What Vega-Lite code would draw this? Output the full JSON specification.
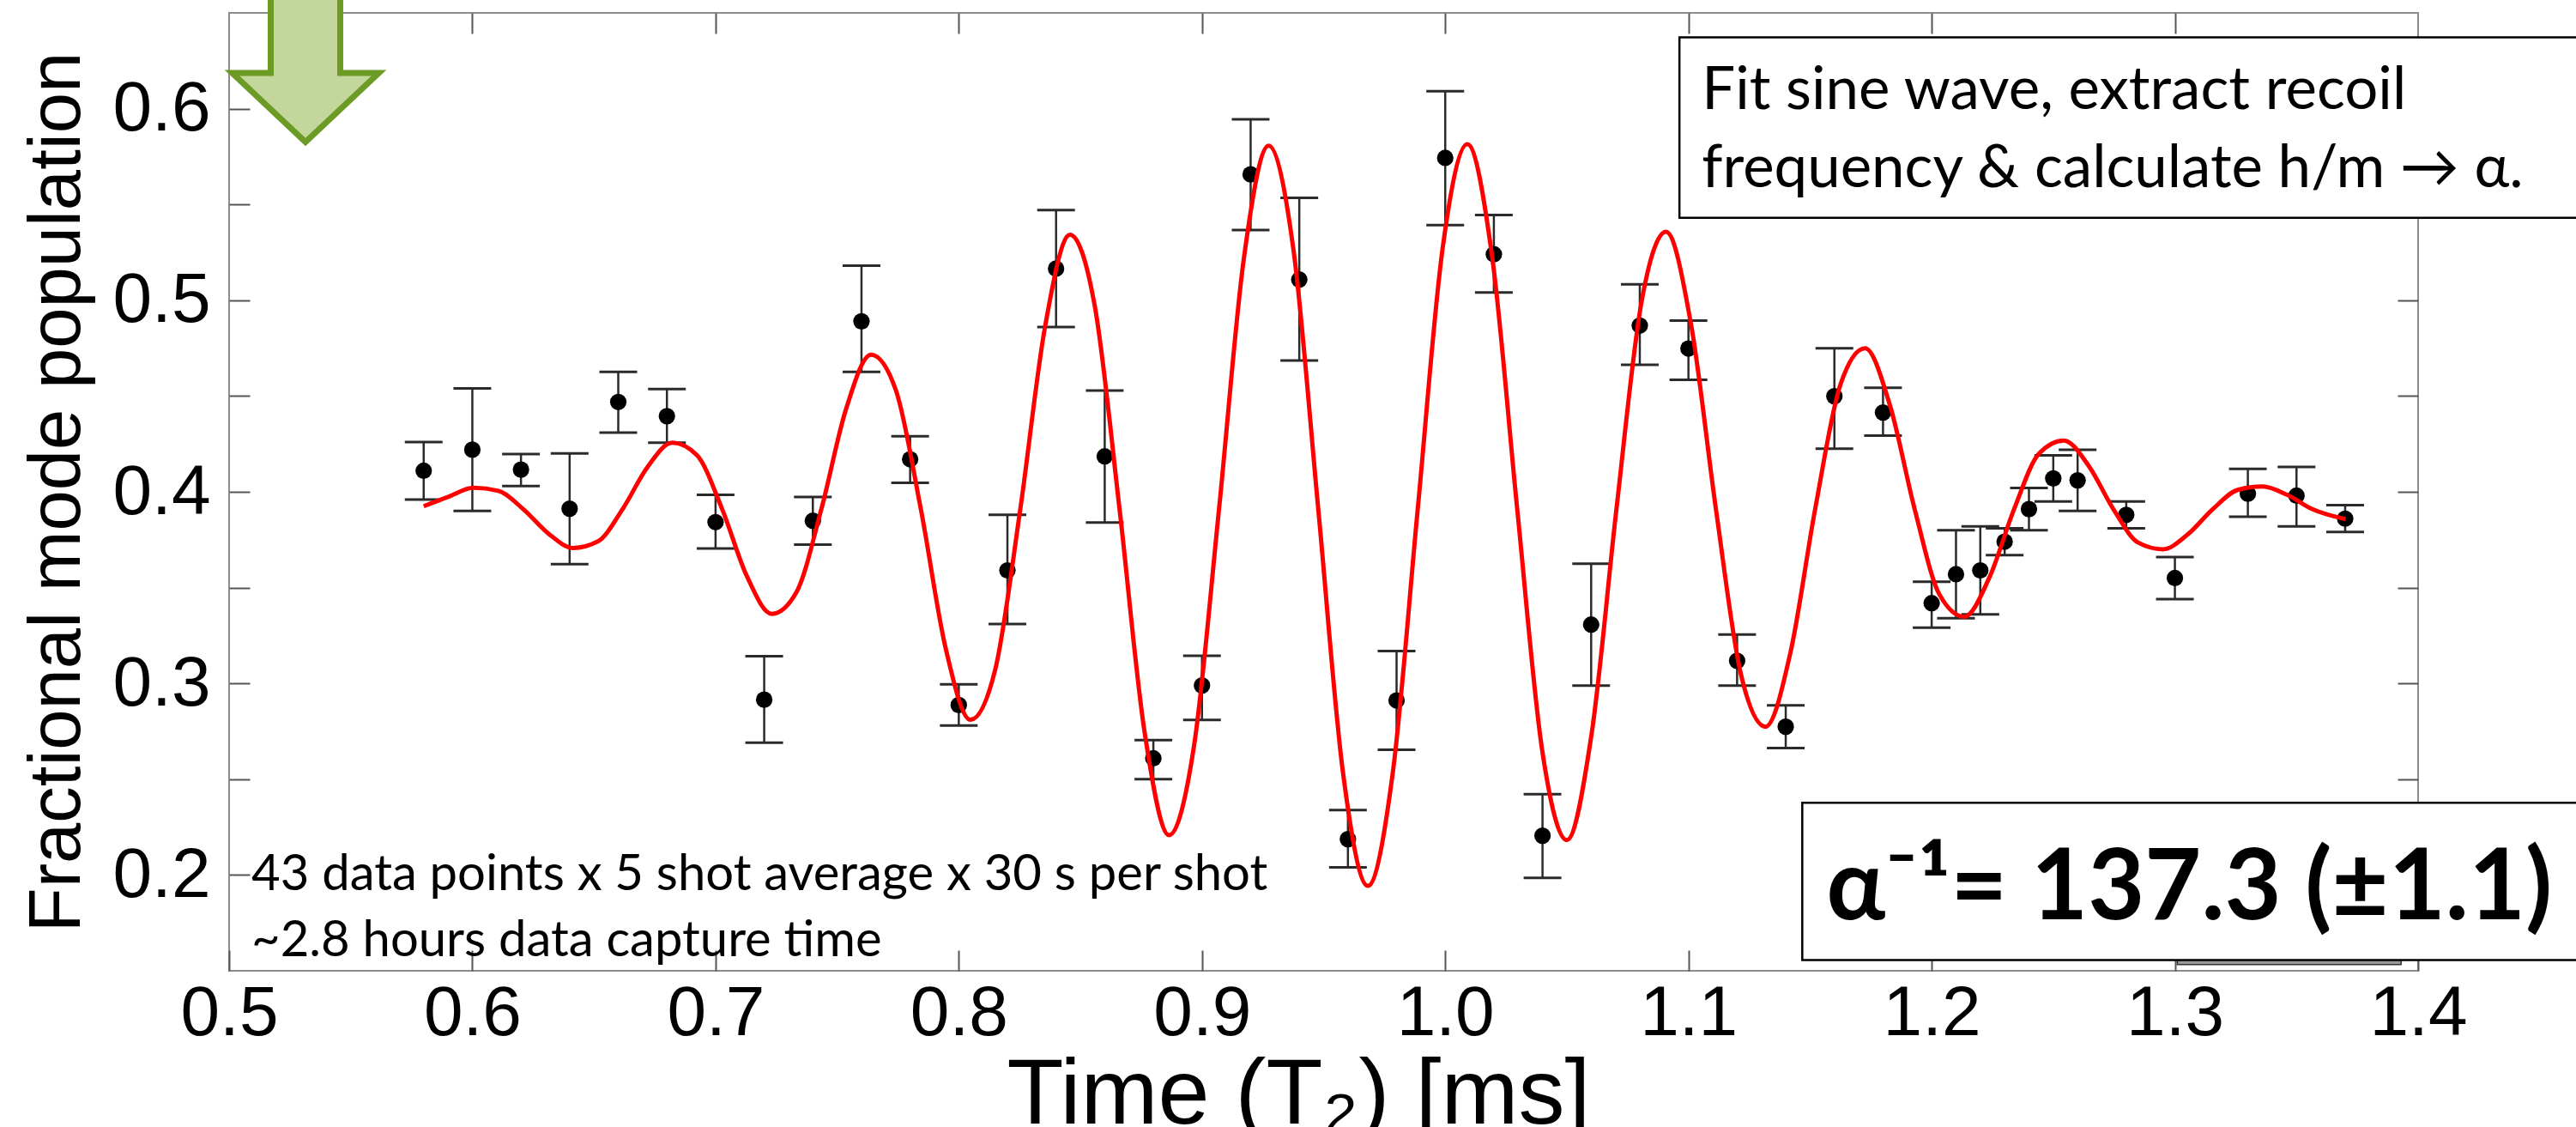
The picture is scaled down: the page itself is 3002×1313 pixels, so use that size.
{
  "$schema": "https://vega.github.io/schema/vega-lite/v6.json",
  "width": 2551,
  "height": 1116,
  "autosize": {"type": "none"},
  "padding": {"left": 267, "top": 15, "right": 184, "bottom": 182},
  "background": "white",
  "config": {"view": {"stroke": "#8c8c8c", "strokeWidth": 2}},
  "datasets": {
    "points": [
      {"x": 0.58, "y": 0.411, "lo": 0.396, "hi": 0.426},
      {"x": 0.60, "y": 0.422, "lo": 0.390, "hi": 0.454},
      {"x": 0.62, "y": 0.4116, "lo": 0.403, "hi": 0.4197},
      {"x": 0.64, "y": 0.3912, "lo": 0.3623, "hi": 0.420},
      {"x": 0.66, "y": 0.4469, "lo": 0.4309, "hi": 0.4626},
      {"x": 0.68, "y": 0.4395, "lo": 0.4256, "hi": 0.4537},
      {"x": 0.70, "y": 0.3842, "lo": 0.3704, "hi": 0.3984},
      {"x": 0.72, "y": 0.2915, "lo": 0.2691, "hi": 0.3142},
      {"x": 0.74, "y": 0.3849, "lo": 0.3725, "hi": 0.3973},
      {"x": 0.76, "y": 0.489, "lo": 0.4626, "hi": 0.518},
      {"x": 0.78, "y": 0.417, "lo": 0.4047, "hi": 0.429},
      {"x": 0.80, "y": 0.2887, "lo": 0.278, "hi": 0.2995},
      {"x": 0.82, "y": 0.359, "lo": 0.331, "hi": 0.388},
      {"x": 0.84, "y": 0.5165, "lo": 0.486, "hi": 0.5471},
      {"x": 0.86, "y": 0.4185, "lo": 0.384, "hi": 0.4529},
      {"x": 0.88, "y": 0.2609, "lo": 0.250, "hi": 0.2704},
      {"x": 0.90, "y": 0.2989, "lo": 0.2809, "hi": 0.3144},
      {"x": 0.92, "y": 0.5657, "lo": 0.5367, "hi": 0.5945},
      {"x": 0.94, "y": 0.5108, "lo": 0.4686, "hi": 0.5535},
      {"x": 0.96, "y": 0.2187, "lo": 0.204, "hi": 0.2339},
      {"x": 0.98, "y": 0.2911, "lo": 0.2654, "hi": 0.3169},
      {"x": 1.00, "y": 0.5743, "lo": 0.5392, "hi": 0.6091},
      {"x": 1.02, "y": 0.524, "lo": 0.504, "hi": 0.5445},
      {"x": 1.04, "y": 0.2205, "lo": 0.1985, "hi": 0.2422},
      {"x": 1.06, "y": 0.3307, "lo": 0.2989, "hi": 0.3625},
      {"x": 1.08, "y": 0.4868, "lo": 0.4663, "hi": 0.5083},
      {"x": 1.10, "y": 0.4748, "lo": 0.4585, "hi": 0.4894},
      {"x": 1.12, "y": 0.3118, "lo": 0.2989, "hi": 0.3255},
      {"x": 1.14, "y": 0.2774, "lo": 0.2663, "hi": 0.2886},
      {"x": 1.16, "y": 0.4499, "lo": 0.4225, "hi": 0.4749},
      {"x": 1.18, "y": 0.4414, "lo": 0.4294, "hi": 0.4543},
      {"x": 1.20, "y": 0.3419, "lo": 0.3291, "hi": 0.3531},
      {"x": 1.21, "y": 0.357, "lo": 0.334, "hi": 0.380},
      {"x": 1.22, "y": 0.359, "lo": 0.336, "hi": 0.382},
      {"x": 1.23, "y": 0.374, "lo": 0.367, "hi": 0.381},
      {"x": 1.24, "y": 0.391, "lo": 0.380, "hi": 0.402},
      {"x": 1.25, "y": 0.407, "lo": 0.395, "hi": 0.419},
      {"x": 1.26, "y": 0.406, "lo": 0.390, "hi": 0.422},
      {"x": 1.28, "y": 0.388, "lo": 0.381, "hi": 0.395},
      {"x": 1.30, "y": 0.355, "lo": 0.344, "hi": 0.366},
      {"x": 1.33, "y": 0.399, "lo": 0.387, "hi": 0.412},
      {"x": 1.35, "y": 0.398, "lo": 0.382, "hi": 0.413},
      {"x": 1.37, "y": 0.386, "lo": 0.379, "hi": 0.393}
    ],
    "curve": [
      {"t": 0.5800, "v": 0.3925}, {"t": 0.5903, "v": 0.3975}, {"t": 0.6005, "v": 0.4021},
      {"t": 0.6107, "v": 0.4005}, {"t": 0.6209, "v": 0.3910}, {"t": 0.6312, "v": 0.3783},
      {"t": 0.6414, "v": 0.3707}, {"t": 0.6516, "v": 0.3741}, {"t": 0.6618, "v": 0.3910},
      {"t": 0.6720, "v": 0.4129}, {"t": 0.6822, "v": 0.4256}, {"t": 0.6924, "v": 0.4190},
      {"t": 0.7027, "v": 0.3910}, {"t": 0.7129, "v": 0.3559}, {"t": 0.7231, "v": 0.3363},
      {"t": 0.7333, "v": 0.3477}, {"t": 0.7435, "v": 0.3910}, {"t": 0.7537, "v": 0.4434},
      {"t": 0.7639, "v": 0.4716}, {"t": 0.7741, "v": 0.4532}, {"t": 0.7844, "v": 0.3910},
      {"t": 0.7946, "v": 0.3184}, {"t": 0.8048, "v": 0.2810}, {"t": 0.8150, "v": 0.3073},
      {"t": 0.8253, "v": 0.3910}, {"t": 0.8355, "v": 0.4864}, {"t": 0.8457, "v": 0.5342},
      {"t": 0.8559, "v": 0.4971}, {"t": 0.8661, "v": 0.3910}, {"t": 0.8763, "v": 0.2754},
      {"t": 0.8865, "v": 0.2208}, {"t": 0.8967, "v": 0.2672}, {"t": 0.9070, "v": 0.3910},
      {"t": 0.9172, "v": 0.5217}, {"t": 0.9274, "v": 0.5807}, {"t": 0.9376, "v": 0.5264},
      {"t": 0.9478, "v": 0.3910}, {"t": 0.9580, "v": 0.2531}, {"t": 0.9682, "v": 0.1943},
      {"t": 0.9784, "v": 0.2530}, {"t": 0.9887, "v": 0.3910}, {"t": 0.9989, "v": 0.5268},
      {"t": 1.0091, "v": 0.5815}, {"t": 1.0193, "v": 0.5226}, {"t": 1.0296, "v": 0.3910},
      {"t": 1.0398, "v": 0.2657}, {"t": 1.0500, "v": 0.2182}, {"t": 1.0602, "v": 0.2738},
      {"t": 1.0704, "v": 0.3910}, {"t": 1.0806, "v": 0.4983}, {"t": 1.0908, "v": 0.5358},
      {"t": 1.1010, "v": 0.4879}, {"t": 1.1113, "v": 0.3910}, {"t": 1.1215, "v": 0.3052},
      {"t": 1.1317, "v": 0.2774}, {"t": 1.1419, "v": 0.3159}, {"t": 1.1521, "v": 0.3910},
      {"t": 1.1624, "v": 0.4556}, {"t": 1.1726, "v": 0.4749}, {"t": 1.1828, "v": 0.4454},
      {"t": 1.1930, "v": 0.3910}, {"t": 1.2032, "v": 0.3464}, {"t": 1.2134, "v": 0.3348},
      {"t": 1.2236, "v": 0.3549}, {"t": 1.2339, "v": 0.3910}, {"t": 1.2441, "v": 0.4199},
      {"t": 1.2543, "v": 0.4268}, {"t": 1.2645, "v": 0.4137}, {"t": 1.2747, "v": 0.3910},
      {"t": 1.2849, "v": 0.3735}, {"t": 1.2951, "v": 0.3700}, {"t": 1.3053, "v": 0.3778},
      {"t": 1.3156, "v": 0.3910}, {"t": 1.3258, "v": 0.4010}, {"t": 1.3360, "v": 0.4028},
      {"t": 1.3462, "v": 0.3984}, {"t": 1.3564, "v": 0.3910}, {"t": 1.3702, "v": 0.3857}
    ],
    "one": [{"k": 1}]
  },
  "resolve": {"axis": {"x": "independent", "y": "independent"}},
  "layer": [
    {
      "data": {"name": "points"},
      "mark": {"type": "rule", "color": "#2a2a2a", "strokeWidth": 2.5},
      "encoding": {
        "x": {"field": "x", "type": "quantitative",
          "scale": {"domain": [0.5, 1.4], "nice": false, "zero": false},
          "axis": {"orient": "bottom", "values": [0.5, 0.6, 0.7, 0.8, 0.9, 1.0, 1.1, 1.2, 1.3, 1.4], "format": ".1f",
            "domain": false, "grid": false, "ticks": true, "tickSize": -24, "tickColor": "#555555", "tickWidth": 2,
            "labelFont": "Liberation Sans", "labelFontSize": 82, "labelColor": "#000000", "labelPadding": 98,
            "labelBaseline": "alphabetic", "labelFlush": false, "labelOverlap": false,
            "title": "Time (T₂) [ms]", "titleFont": "Liberation Sans", "titleFontSize": 108, "titleFontWeight": "normal",
            "titleColor": "#000000", "titleX": 1246, "titleY": 177, "titleAlign": "center", "titleBaseline": "alphabetic"}},
        "y": {"field": "lo", "type": "quantitative",
          "scale": {"domain": [0.15, 0.65], "nice": false, "zero": false},
          "axis": {"orient": "left", "values": [0.2, 0.25, 0.3, 0.35, 0.4, 0.45, 0.5, 0.55, 0.6],
            "labelExpr": "round(datum.value*100) % 10 == 0 ? format(datum.value, '.1f') : ''",
            "domain": false, "grid": false, "ticks": true, "tickSize": -24, "tickColor": "#555555", "tickWidth": 2,
            "labelFont": "Liberation Sans", "labelFontSize": 82, "labelColor": "#000000", "labelPadding": 46,
            "labelBaseline": "middle", "labelOverlap": false, "labelFlush": false,
            "title": "Fractional mode population", "titleFont": "Liberation Sans", "titleFontSize": 85, "titleFontWeight": "normal",
            "titleColor": "#000000", "titleX": -175, "titleY": 558, "titleAngle": 270, "titleAlign": "center", "titleBaseline": "alphabetic"}},
        "y2": {"field": "hi"}
      }
    },
    {
      "data": {"name": "points"},
      "mark": {"type": "tick", "orient": "horizontal", "size": 44, "thickness": 3, "color": "#2a2a2a", "opacity": 1},
      "encoding": {
        "x": {"field": "x", "type": "quantitative",
          "scale": {"domain": [0.5, 1.4], "nice": false, "zero": false},
          "axis": {"orient": "top", "values": [0.6, 0.7, 0.8, 0.9, 1.0, 1.1, 1.2, 1.3], "labels": false,
            "domain": false, "grid": false, "ticks": true, "tickSize": -24, "tickColor": "#555555", "tickWidth": 2, "title": null}},
        "y": {"field": "hi", "type": "quantitative",
          "scale": {"domain": [0.15, 0.65], "nice": false, "zero": false},
          "axis": {"orient": "right", "values": [0.2, 0.25, 0.3, 0.35, 0.4, 0.45, 0.5, 0.55, 0.6], "labels": false,
            "domain": false, "grid": false, "ticks": true, "tickSize": -24, "tickColor": "#555555", "tickWidth": 2, "title": null}}
      }
    },
    {
      "data": {"name": "points"},
      "mark": {"type": "tick", "orient": "horizontal", "size": 44, "thickness": 3, "color": "#2a2a2a", "opacity": 1},
      "encoding": {
        "x": {"field": "x", "type": "quantitative", "scale": {"domain": [0.5, 1.4], "nice": false, "zero": false}, "axis": null},
        "y": {"field": "lo", "type": "quantitative", "scale": {"domain": [0.15, 0.65], "nice": false, "zero": false}, "axis": null}
      }
    },
    {
      "data": {"name": "points"},
      "mark": {"type": "point", "shape": "circle", "filled": true, "color": "#000000", "size": 370, "opacity": 1},
      "encoding": {
        "x": {"field": "x", "type": "quantitative", "scale": {"domain": [0.5, 1.4], "nice": false, "zero": false}, "axis": null},
        "y": {"field": "y", "type": "quantitative", "scale": {"domain": [0.15, 0.65], "nice": false, "zero": false}, "axis": null}
      }
    },
    {
      "data": {"name": "curve"},
      "mark": {"type": "line", "color": "#ff0000", "strokeWidth": 5, "interpolate": "monotone"},
      "encoding": {
        "x": {"field": "t", "type": "quantitative", "scale": {"domain": [0.5, 1.4], "nice": false, "zero": false}, "axis": null},
        "y": {"field": "v", "type": "quantitative", "scale": {"domain": [0.15, 0.65], "nice": false, "zero": false}, "axis": null}
      }
    },
    {
      "data": {"name": "one"},
      "mark": {"type": "point", "shape": "M-0.455,-1.2L0.455,-1.2L0.455,0.017L0.96,0.017L0,0.921L-0.96,0.017L-0.455,0.017Z",
        "size": 31684, "filled": true, "fill": "#c3d69b", "stroke": "#6b9a25", "strokeWidth": 7, "opacity": 1, "fillOpacity": 1, "strokeOpacity": 1, "strokeJoin": "miter"},
      "encoding": {
        "x": {"datum": 0.5314, "type": "quantitative", "axis": null},
        "y": {"datum": 0.6193, "type": "quantitative", "axis": null}
      }
    },
    {
      "data": {"name": "one"},
      "mark": {"type": "rect", "fill": "#9a9a9a", "stroke": "#333333", "strokeWidth": 1.5},
      "encoding": {
        "x": {"datum": 1.301, "type": "quantitative", "axis": null},
        "x2": {"datum": 1.393},
        "y": {"datum": 0.1563, "type": "quantitative", "axis": null},
        "y2": {"datum": 0.1532}
      }
    },
    {
      "data": {"name": "one"},
      "mark": {"type": "rect", "fill": "#ffffff", "stroke": "#000000", "strokeWidth": 2.5},
      "encoding": {
        "x": {"datum": 1.0963, "type": "quantitative", "axis": null},
        "x2": {"datum": 1.47},
        "y": {"datum": 0.6372, "type": "quantitative", "axis": null},
        "y2": {"datum": 0.543}
      }
    },
    {
      "data": {"name": "one"},
      "mark": {"type": "text", "text": "Fit sine wave, extract recoil", "align": "left", "baseline": "alphabetic", "font": "Lato", "fontSize": 69, "color": "#000000"},
      "encoding": {
        "x": {"datum": 1.1055, "type": "quantitative", "axis": null},
        "y": {"datum": 0.5996, "type": "quantitative", "axis": null}
      }
    },
    {
      "data": {"name": "one"},
      "mark": {"type": "text", "text": "frequency & calculate h/m → α.", "align": "left", "baseline": "alphabetic", "font": "Lato", "fontSize": 69, "color": "#000000"},
      "encoding": {
        "x": {"datum": 1.1055, "type": "quantitative", "axis": null},
        "y": {"datum": 0.5592, "type": "quantitative", "axis": null}
      }
    },
    {
      "data": {"name": "one"},
      "mark": {"type": "rect", "fill": "#ffffff", "stroke": "#000000", "strokeWidth": 2.5},
      "encoding": {
        "x": {"datum": 1.1468, "type": "quantitative", "axis": null},
        "x2": {"datum": 1.47},
        "y": {"datum": 0.2377, "type": "quantitative", "axis": null},
        "y2": {"datum": 0.1556}
      }
    },
    {
      "data": {"name": "one"},
      "mark": {"type": "text", "text": "α⁻¹= 137.3 (±1.1)", "align": "left", "baseline": "alphabetic", "font": "Lato", "fontWeight": "bold", "fontSize": 114, "color": "#000000"},
      "encoding": {
        "x": {"datum": 1.1567, "type": "quantitative", "axis": null},
        "y": {"datum": 0.1771, "type": "quantitative", "axis": null}
      }
    },
    {
      "data": {"name": "one"},
      "mark": {"type": "text", "text": "43 data points x 5 shot average x 30 s per shot", "align": "left", "baseline": "alphabetic", "font": "Lato", "fontSize": 58, "color": "#000000"},
      "encoding": {
        "x": {"datum": 0.5092, "type": "quantitative", "axis": null},
        "y": {"datum": 0.1919, "type": "quantitative", "axis": null}
      }
    },
    {
      "data": {"name": "one"},
      "mark": {"type": "text", "text": "~2.8 hours data capture time", "align": "left", "baseline": "alphabetic", "font": "Lato", "fontSize": 58, "color": "#000000"},
      "encoding": {
        "x": {"datum": 0.5092, "type": "quantitative", "axis": null},
        "y": {"datum": 0.1578, "type": "quantitative", "axis": null}
      }
    }
  ]
}
